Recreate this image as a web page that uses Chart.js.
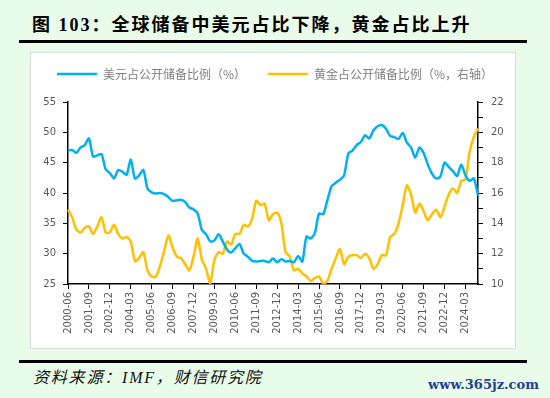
<!DOCTYPE html>
<html>
<head>
<meta charset="utf-8">
<script src="https://cdn.jsdelivr.net/npm/chart.js@4"></script>
<style>
  body { margin: 0; width: 550px; height: 398px; background: #e9fbe9; position: relative; overflow: hidden; }
  .title { position: absolute; left: 32px; top: 13px; font: bold 18px "Liberation Serif", "Noto Sans CJK SC"; letter-spacing: 2px; line-height: 24px; color: #000; white-space: nowrap; }
  .rule { position: absolute; left: 19px; width: 508px; height: 3px; background: #000; }
  .box { position: absolute; left: 30px; top: 52px; width: 486px; height: 297px; background: #fff; border: 1px solid #dcdcdc; box-sizing: border-box; }
  .source { position: absolute; left: 33px; top: 368px; font: italic 16px "Liberation Serif", "Noto Sans CJK SC"; letter-spacing: 1.8px; line-height: 20px; color: #111; white-space: nowrap; }
  .mark { position: absolute; left: 428px; top: 376px; font: bold 13px "DejaVu Serif"; line-height: 18px; color: #24408e; }
  #myChart { position: absolute; left: 0; top: 0; }
</style>
</head>
<body>
<div class="title">图 103：全球储备中美元占比下降，黄金占比上升</div>
<div class="rule" style="top:40px"></div>
<div class="box"></div>
<div class="rule" style="top:360px"></div>
<div class="source">资料来源：IMF，财信研究院</div>
<div class="mark">www.365jz.com</div>
<canvas id="myChart" width="550" height="398"></canvas>
<script>
// quarters 2000-06 ... 2024-12
var quarters = [];
for (var y = 2000; y <= 2024; y++) {
  ['03', '06', '09', '12'].forEach(function (m) {
    if (y === 2000 && m === '03') return;
    quarters.push(y + '-' + m);
  });
}

var usdShare = [
  47.0, 47.1, 46.6, 47.5, 47.9, 49.0, 46.0, 46.2, 46.4, 43.9,
  43.3, 42.4, 43.8, 43.5, 43.0, 45.5, 42.4, 42.9, 43.8, 40.7,
  40.1, 39.9, 40.0, 39.8, 39.3, 38.7, 38.8, 38.9, 38.5, 37.6,
  37.3, 36.6, 33.9, 33.2, 32.0, 32.2, 33.2, 32.0, 30.7, 30.2,
  30.9, 31.6, 30.0, 29.5, 28.8, 28.7, 28.8, 28.8, 28.6, 29.2,
  28.6, 29.1, 28.7, 28.8, 28.6, 29.6, 28.7, 32.8, 32.5, 33.4,
  36.6, 36.5, 38.8, 41.1, 41.7, 42.2, 42.9, 46.5, 47.0, 47.9,
  48.4, 49.5, 49.0, 50.3, 51.0, 51.2, 50.6, 49.4, 49.2, 48.9,
  49.9, 48.3, 47.5, 45.8, 47.5, 46.6, 44.7, 43.2, 42.4, 42.7,
  45.0, 44.3, 43.6, 42.8, 44.7, 42.9, 42.0, 42.4, 39.6
];

var goldShare = [
  14.9, 14.4, 13.6, 13.4, 13.7, 13.8, 13.3, 13.8, 14.4, 13.4,
  13.4, 13.9, 13.3, 13.0, 13.1, 12.8, 11.5, 11.7, 12.1, 10.9,
  10.5, 10.5, 11.2, 12.2, 13.2, 12.4, 11.8, 11.7, 11.3, 10.9,
  11.8, 13.0, 11.6, 11.0, 10.05, 11.6, 12.1, 12.0, 12.8, 12.6,
  13.3, 13.3, 13.9, 13.8, 14.3, 15.5, 15.2, 15.3, 14.2, 14.6,
  14.7, 14.0, 12.1, 11.8, 10.9, 11.0, 10.7, 10.5, 10.2, 10.4,
  10.5, 10.02, 10.2, 11.0, 11.7, 12.3, 11.3, 11.8, 11.9, 11.9,
  11.7, 12.0, 11.7, 11.0, 11.3, 11.9, 11.9, 13.1, 13.3, 14.0,
  15.2, 16.5, 15.9, 14.7, 15.3, 14.8, 14.2, 14.6, 14.9, 14.4,
  15.1, 15.9, 16.3, 16.0, 16.8, 16.9, 18.7, 19.7, 20.25
];

var usdLabel = '美元占公开储备比例（%）';
var goldLabel = '黄金占公开储备比例（%，右轴）';

Chart.defaults.font.family = '"DejaVu Sans", sans-serif';
Chart.defaults.font.size = 10;
Chart.defaults.color = '#595959';

// fixed legend height so the plot sits where it should
var legendBox = {
  id: 'legendBox',
  afterInit: function (chart) {
    var fit = chart.legend.fit;
    chart.legend.fit = function () { fit.call(this); this.height = 56; };
  }
};

const ctx = document.getElementById('myChart');

new Chart(ctx, {
  type: 'line',
  data: {
    labels: quarters,
    datasets: [{
      label: usdLabel,
      data: usdShare,
      yAxisID: 'y',
      borderColor: '#00b0f0',
      backgroundColor: '#00b0f0',
      borderWidth: 2.5,
      pointRadius: 0,
      tension: 0.25
    }, {
      label: goldLabel,
      data: goldShare,
      yAxisID: 'y1',
      borderColor: '#ffc000',
      backgroundColor: '#ffc000',
      borderWidth: 2.5,
      pointRadius: 0,
      tension: 0.25
    }]
  },
  options: {
    responsive: false,
    animation: false,
    devicePixelRatio: 1,
    layout: { padding: { top: 46, left: 0, right: 0, bottom: 0 } },
    plugins: {
      tooltip: { enabled: false },
      legend: {
        labels: {
          usePointStyle: true,
          pointStyle: 'line',
          pointStyleWidth: 40,
          padding: 22,
          color: '#7f7f7f',
          font: { family: '"Noto Sans CJK SC"', size: 12 }
        }
      }
    },
    scales: {
      x: {
        offset: false,
        grid: { offset: false, drawOnChartArea: false, tickLength: 5, color: '#000', lineWidth: 1 },
        border: { color: '#000', width: 1.5 },
        ticks: {
          autoSkip: false,
          minRotation: 90,
          maxRotation: 90,
          padding: 3,
          callback: function (val, i) { return i % 5 === 0 ? this.getLabelForValue(val) : null; }
        },
        afterFit: function (s) { s.height = 114; }
      },
      y: {
        position: 'left',
        min: 25,
        max: 55,
        grid: { drawOnChartArea: false, tickLength: 5, color: '#000' },
        border: { color: '#000', width: 1.5 },
        ticks: { stepSize: 5, padding: 7 },
        afterFit: function (s) { s.width = 68; }
      },
      y1: {
        position: 'right',
        min: 10,
        max: 22,
        grid: { drawOnChartArea: false, tickLength: 5, color: '#000' },
        border: { color: '#000', width: 1.5 },
        ticks: {
          stepSize: 1,
          autoSkip: false,
          padding: 8,
          callback: function (v) { return v % 2 === 0 ? v : ''; }
        },
        afterFit: function (s) { s.width = 72; }
      }
    }
  },
  plugins: [legendBox]
});
</script>
</body>
</html>
